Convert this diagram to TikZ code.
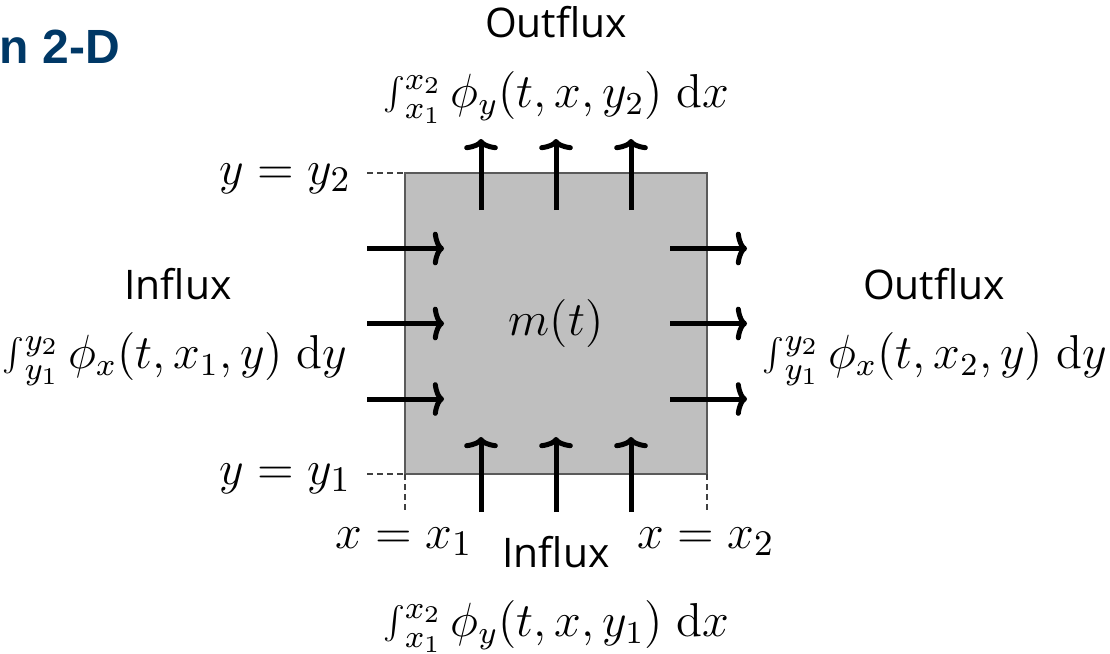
\documentclass[tikz,border=0pt]{standalone}
\usepackage{fontspec}
\setsansfont{Open Sans}
\newfontfamily\titlefont{Liberation Sans}
\usetikzlibrary{arrows.meta}
\definecolor{titleblue}{RGB}{0,56,102}
\definecolor{boxfill}{RGB}{191,191,191}
\definecolor{boxedge}{RGB}{90,90,90}
\newcommand{\smint}{\mathop{\vcenter{\hbox{\scalebox{0.82}{$\textstyle\int$}}}}\nolimits}
\begin{document}
\begin{tikzpicture}[x=0.25pt,y=-0.25pt,
  flux/.style={line width=1.25pt,-{To[length=2.8pt,width=8.4pt]}},
  guide/.style={line width=0.3pt,dash pattern=on 1.5pt off 1pt,black!75},
  mathlbl/.style={font=\fontsize{12.2}{14}\selectfont,inner sep=0pt},
  intlbl/.style={font=\fontsize{11.9}{14}\selectfont,inner sep=0pt},
  word/.style={font=\sffamily\fontsize{10.2}{12}\selectfont,inner sep=0pt},
  cell/.style={draw=boxedge,fill=boxfill,line width=0.4pt,inner sep=0pt,outer sep=0pt,
    minimum width=75.5pt,minimum height=75.25pt,font=\fontsize{12.2}{14}\selectfont}]
\useasboundingbox (0,0) rectangle (1110,653);
% title fragment
\node[anchor=base west,font=\titlefont\bfseries\fontsize{12}{14}\selectfont,
  text=titleblue,inner sep=0pt] (title) at (-1,63) {n 2-D};
% control volume
\node[cell] (box) at (556,323.5) {$m(t)$};
% guide lines
\coordinate (gy2a) at (367,173); \coordinate (gy2b) at (405,173);
\coordinate (gy1a) at (367,474); \coordinate (gy1b) at (405,474);
\coordinate (gx1a) at (405,474); \coordinate (gx1b) at (405,512);
\coordinate (gx2a) at (707,474); \coordinate (gx2b) at (707,512);
\draw[guide] (gy2a) -- (gy2b);
\draw[guide] (gy1a) -- (gy1b);
\draw[guide] (gx1a) -- (gx1b);
\draw[guide] (gx2a) -- (gx2b);
% flux arrows
\foreach \i/\p in {1/481,2/556,3/631}{
  \coordinate (ts\i) at (\p,210); \coordinate (te\i) at (\p,139);
  \coordinate (bs\i) at (\p,512); \coordinate (be\i) at (\p,437);
  \draw[flux] (ts\i) -- (te\i);
  \draw[flux] (bs\i) -- (be\i);
}
\foreach \i/\q in {1/248.5,2/323.5,3/399}{
  \coordinate (ls\i) at (367,\q); \coordinate (le\i) at (444,\q);
  \coordinate (rs\i) at (670,\q); \coordinate (re\i) at (747,\q);
  \draw[flux] (ls\i) -- (le\i);
  \draw[flux] (rs\i) -- (re\i);
}
% axis labels
\node[mathlbl,anchor=base east] (ly2) at (352,184) {$y = y_2$};
\node[mathlbl,anchor=base east] (ly1) at (352,484) {$y = y_1$};
\node[mathlbl,anchor=base] (lx1) at (404,548) {$x = x_1$};
\node[mathlbl,anchor=base] (lx2) at (706,548) {$x = x_2$};
% flux labels
\node[word,anchor=base] (outtop) at (556,37) {Outflux};
\node[intlbl,anchor=base] (inttop) at (556,107) {$\smint_{x_1}^{x_2}\phi_y(t,x,y_2)\;\mathrm{d}x$};
\node[word,anchor=base] (inleft) at (178,299) {Influx};
\node[intlbl,anchor=base] (intleft) at (175,368) {$\smint_{y_1}^{y_2}\phi_x(t,x_1,y)\;\mathrm{d}y$};
\node[word,anchor=base] (outright) at (934,299) {Outflux};
\node[intlbl,anchor=base] (intright) at (935,368) {$\smint_{y_1}^{y_2}\phi_x(t,x_2,y)\;\mathrm{d}y$};
\node[word,anchor=base] (inbot) at (556,567) {Influx};
\node[intlbl,anchor=base] (intbot) at (556,636) {$\smint_{x_1}^{x_2}\phi_y(t,x,y_1)\;\mathrm{d}x$};
\end{tikzpicture}
\end{document}
